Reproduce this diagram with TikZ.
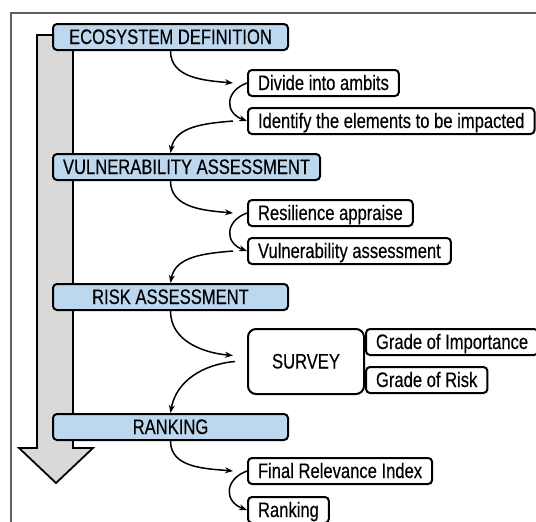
\documentclass[tikz,border=0pt]{standalone}
\usepackage{fontspec}
\setmainfont{Liberation Sans}[FakeStretch=0.79, FakeBold=0.25]
\usetikzlibrary{arrows.meta}
\definecolor{stageblue}{RGB}{189,215,238}
\definecolor{framegray}{RGB}{96,96,96}
\begin{document}
\begin{tikzpicture}[x=1pt, y=1pt,
    font=\fontsize{21}{24}\selectfont,
    stage/.style={draw, fill=stageblue, line width=2pt, rounded corners=4pt, anchor=north west,
        minimum width=235pt, minimum height=26pt, inner ysep=0pt, inner xsep=10pt,
        text height=15pt, text depth=1pt},
    task/.style={draw, fill=white, line width=2pt, rounded corners=4pt, anchor=north west,
        minimum height=26pt, inner ysep=0pt, inner xsep=10pt,
        text height=15pt, text depth=1pt},
    flow/.style={-{Stealth[length=8pt,width=6pt]}, line width=1.5pt}]
    \useasboundingbox (0,0) rectangle (536,-522);
    % frame
    \draw[framegray, line width=1.2pt] (536,-13) -- (11,-13) -- (11,-522);
    % big gray arrow
    \draw[fill=gray!30, line width=1.8pt] (73,-35) -- (37,-35) -- (37,-448) -- (19,-448)
        -- (56,-483) -- (93,-448) -- (73,-448) -- cycle;

    % stages
    \node[stage] (eco) at (52,-23) {ECOSYSTEM DEFINITION};
    \node[stage] (vul) at (52,-153) {VULNERABILITY ASSESSMENT};
    \node[stage] (risk) at (52,-283) {RISK ASSESSMENT};
    \node[stage] (rank) at (52,-413) {RANKING};

    % steps
    \node[task] (div) at (247,-69) {Divide into ambits};
    \node[task] (idn) at (247,-107) {Identify the elements to be impacted};
    \node[task] (res) at (247,-199) {Resilience appraise};
    \node[task] (vas) at (247,-237) {Vulnerability assessment};
    \node[task, rounded corners=8pt, minimum width=116pt, minimum height=65pt] (srv) at (247,-328) {SURVEY};
    \node[task] (imp) at (srv.north east) {Grade of Importance};
    \node[task] (grk) at ([yshift=-38pt]srv.north east) {Grade of Risk};
    \node[task] (fri) at (247,-457) {Final Relevance Index};
    \node[task] (rnk) at (247,-496) {Ranking};

    % connectors
    \draw[flow] (eco.south) to[out=-90, in=175] ([xshift=-14pt]div.west);
    \draw[flow] (div.west) to[out=200, in=160, looseness=1.6] (idn.west);
    \draw[flow] ([xshift=-14pt]idn.west) to[out=185, in=80] (vul.north -| eco.south);

    \draw[flow] (vul.south -| eco.south) to[out=-90, in=175] ([xshift=-14pt]res.west);
    \draw[flow] (res.west) to[out=200, in=160, looseness=1.6] (vas.west);
    \draw[flow] ([xshift=-14pt]vas.west) to[out=185, in=80] (risk.north -| eco.south);

    \draw[flow] (risk.south -| eco.south) to[out=-90, in=175] ([xshift=-14pt,yshift=6pt]srv.west);
    \draw[flow] ([xshift=-12pt]srv.west) to[out=185, in=80] (rank.north -| eco.south);

    \draw[flow] (rank.south -| eco.south) to[out=-90, in=175] ([xshift=-14pt]fri.west);
    \draw[flow] (fri.west) to[out=200, in=160, looseness=1.6] (rnk.west);
\end{tikzpicture}
\end{document}
